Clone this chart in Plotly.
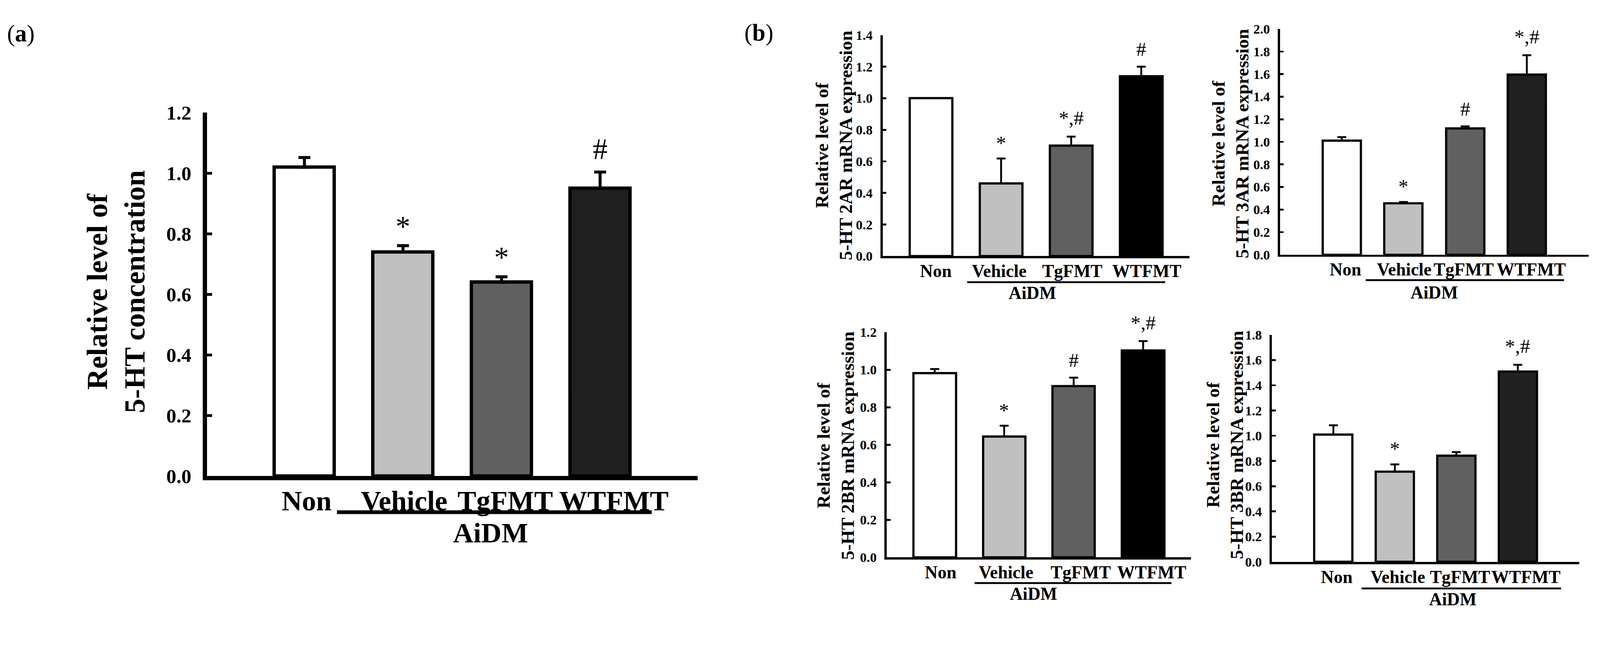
import plotly.graph_objects as go

W, H = 4316, 1689
SERIF = 'Liberation Serif'

groups = ['Non', 'Vehicle', 'TgFMT', 'WTFMT']
group_label = 'AiDM'

# (a) 5-HT concentration
conc_mean = [1.02, 0.74, 0.64, 0.95]
conc_err = [0.032, 0.021, 0.018, 0.054]
conc_marks = ['', '*', '*', '#']

# (b) receptor mRNA expression
r2a_mean = [1.00, 0.46, 0.70, 1.14]
r2a_err = [0.0, 0.158, 0.057, 0.06]
r2a_marks = ['', '*', '*,#', '#']

r3a_mean = [1.01, 0.455, 1.12, 1.595]
r3a_err = [0.032, 0.012, 0.017, 0.172]
r3a_marks = ['', '*', '#', '*,#']

r2b_mean = [0.982, 0.644, 0.913, 1.104]
r2b_err = [0.022, 0.058, 0.045, 0.049]
r2b_marks = ['', '*', '#', '*,#']

r3b_mean = [1.008, 0.715, 0.841, 1.509]
r3b_err = [0.075, 0.058, 0.03, 0.053]
r3b_marks = ['', '*', '', '*,#']

fills = ['#ffffff', '#c0c0c0', '#606060', '#202020']


def fx(px):
    return px / W


def fy(py):
    return 1 - py / H


# pixel layout of each panel: axis corner, axis end, top tick, text positions, sizes
panels = [
    dict(mean=conc_mean, err=conc_err, marks=conc_marks, ymax=1.2, last='#202020',
         title='Relative level of<br>5-HT concentration',
         ax=558, ex=1882, y0=1301, ytop=285, pad=0.99, bw=0.61,
         tx=313, ty=786, tfs=78, tickfs=54, xfs=76, mfs=80,
         lw=11, bl=9, et=8, ew=16, tl=14, tw=8, ystand=20, xstand=-10,
         ldx=[6, 3, 10, 37], mshift={'*': 6, '#': 16, '*,#': 14},
         gx0=909, gx1=1758, gy=1402, gtx=1323, gty=1460),
    dict(mean=r2a_mean, err=r2a_err, marks=r2a_marks, ymax=1.4, last='#000000',
         title='Relative level of<br>5-HT 2AR mRNA expression',
         ax=2381, ex=3209, y0=686, ytop=68, pad=0.69, bw=0.61,
         tx=2249, ty=377, tfs=50, tickfs=36, xfs=48, mfs=54,
         lw=6, bl=6, et=5, ew=12, tl=10, tw=5, ystand=14, xstand=-7,
         ldx=[13, -5, 3, 15], mshift={'*': 10, '#': 15, '*,#': 18},
         gx0=2609, gx1=3143, gy=759, gtx=2785, gty=789),
    dict(mean=r3a_mean, err=r3a_err, marks=r3a_marks, ymax=2.0, last='#202020',
         title='Relative level of<br>5-HT 3AR mRNA expression',
         ax=3453, ex=4285, y0=682, ytop=51, pad=1.0, bw=0.62,
         tx=3319, ty=371, tfs=50, tickfs=36, xfs=48, mfs=54,
         lw=6, bl=6, et=5, ew=12, tl=10, tw=5, ystand=14, xstand=-7,
         ldx=[10, 2, -4, 12], mshift={'*': 10, '#': 15, '*,#': 18},
         gx0=3684, gx1=4219, gy=753, gtx=3869, gty=787),
    dict(mean=r2b_mean, err=r2b_err, marks=r2b_marks, ymax=1.2, last='#000000',
         title='Relative level of<br>5-HT 2BR mRNA expression',
         ax=2392, ex=3213, y0=1528, ytop=899, pad=0.69, bw=0.61,
         tx=2254, ty=1216, tfs=50, tickfs=36, xfs=48, mfs=54,
         lw=6, bl=6, et=5, ew=12, tl=10, tw=5, ystand=14, xstand=-7,
         ldx=[16, 5, 19, 23], mshift={'*': 10, '#': 15, '*,#': 18},
         gx0=2629, gx1=3160, gy=1600, gtx=2788, gty=1629),
    dict(mean=r3b_mean, err=r3b_err, marks=r3b_marks, ymax=1.8, last='#202020',
         title='Relative level of<br>5-HT 3BR mRNA expression',
         ax=3431, ex=4260, y0=1541, ytop=906, pad=1.0, bw=0.62,
         tx=3304, ty=1214, tfs=50, tickfs=36, xfs=48, mfs=54,
         lw=6, bl=6, et=5, ew=12, tl=10, tw=5, ystand=14, xstand=-7,
         ldx=[9, 8, 10, 22], mshift={'*': 10, '#': 15, '*,#': 18},
         gx0=3673, gx1=4211, gy=1615, gtx=3919, gty=1645),
]

fig = go.Figure()
annotations = []
shapes = []

for i, p in enumerate(panels, start=1):
    xa = 'x' if i == 1 else f'x{i}'
    ya = 'y' if i == 1 else f'y{i}'
    cols = fills[:3] + [p['last']]
    xs = list(range(len(groups)))
    lo, hi = -p['pad'], len(groups) - 1 + p['pad']
    unit = (p['ex'] - p['ax']) / (hi - lo)
    fig.add_trace(go.Bar(
        x=xs, y=p['mean'], width=p['bw'], xaxis=xa, yaxis=ya,
        marker=dict(color=cols, line=dict(color='black', width=p['bl'])),
        error_y=dict(type='data', array=p['err'], arrayminus=[0] * len(xs),
                     symmetric=False, color='black', thickness=p['et'], width=p['ew']),
        showlegend=False, hoverinfo='skip'))

    fig.layout[f'xaxis{"" if i == 1 else i}'] = dict(
        domain=[fx(p['ax']), fx(p['ex'])], anchor=ya, range=[lo, hi],
        tickvals=[k + d / unit for k, d in zip(xs, p['ldx'])], ticktext=groups,
        ticks='', tickangle=0,
        showline=True, linecolor='black', linewidth=p['lw'],
        showgrid=False, zeroline=False, ticklabelstandoff=p['xstand'],
        tickfont=dict(family=SERIF, size=p['xfs'], color='black', weight='bold'))
    fig.layout[f'yaxis{"" if i == 1 else i}'] = dict(
        domain=[fy(p['y0']), fy(p['ytop'])], anchor=xa,
        range=[0, p['ymax']], dtick=0.2, tick0=0, tickformat='.1f',
        ticks='inside', ticklen=p['tl'], tickwidth=p['tw'], tickcolor='black',
        showline=True, linecolor='black', linewidth=p['lw'],
        showgrid=False, zeroline=False, ticklabelstandoff=p['ystand'],
        tickfont=dict(family=SERIF, size=p['tickfs'], color='black', weight='bold'))

    # y-axis title
    annotations.append(dict(
        text=p['title'], textangle=-90, xref='paper', yref='paper',
        x=fx(p['tx']), y=fy(p['ty']), xanchor='center', yanchor='middle',
        showarrow=False, font=dict(family=SERIF, size=p['tfs'], color='black', weight='bold')))

    # significance marks
    for k, m in enumerate(p['marks']):
        if not m:
            continue
        annotations.append(dict(
            text=m, xref=xa, yref=ya, x=k, y=p['mean'][k] + p['err'][k],
            xanchor='center', yanchor='bottom', yshift=p['mshift'][m], showarrow=False,
            font=dict(family=SERIF, size=p['mfs'], color='black')))

    # AiDM grouping line and label
    shapes.append(dict(type='line', xref='paper', yref='paper',
                       x0=fx(p['gx0']), x1=fx(p['gx1']), y0=fy(p['gy']), y1=fy(p['gy']),
                       line=dict(color='black', width=p['lw'] - 1)))
    annotations.append(dict(
        text=group_label, xref='paper', yref='paper',
        x=fx(p['gtx']), y=fy(p['gty']), xanchor='center', yanchor='middle',
        showarrow=False, font=dict(family=SERIF, size=p['xfs'], color='black', weight='bold')))

# panel letters
annotations.append(dict(text='(<b>a</b>)', xref='paper', yref='paper', x=fx(56), y=fy(64),
                        xanchor='center', yanchor='middle', showarrow=False,
                        font=dict(family=SERIF, size=64, color='black')))
annotations.append(dict(text='(<b>b</b>)', xref='paper', yref='paper', x=fx(2047), y=fy(62),
                        xanchor='center', yanchor='middle', showarrow=False,
                        font=dict(family=SERIF, size=64, color='black')))

fig.update_layout(
    width=W, height=H, margin=dict(l=0, r=0, t=0, b=0),
    paper_bgcolor='white', plot_bgcolor='white',
    annotations=annotations, shapes=shapes, bargap=0)

# keep the whole figure inside the browser window
fit_page = """
var gd = document.getElementById('{plot_id}');
document.body.style.margin = '0';
document.body.style.overflow = 'hidden';
var s = Math.min(window.innerWidth / %d, window.innerHeight / %d);
if (Math.abs(s - 1) > 0.002) {
    gd.style.transformOrigin = '0 0';
    gd.style.transform = 'scale(' + s + ')';
}
""" % (W, H)

fig.write_html("out.html", post_script=fit_page, config={'displayModeBar': False})
